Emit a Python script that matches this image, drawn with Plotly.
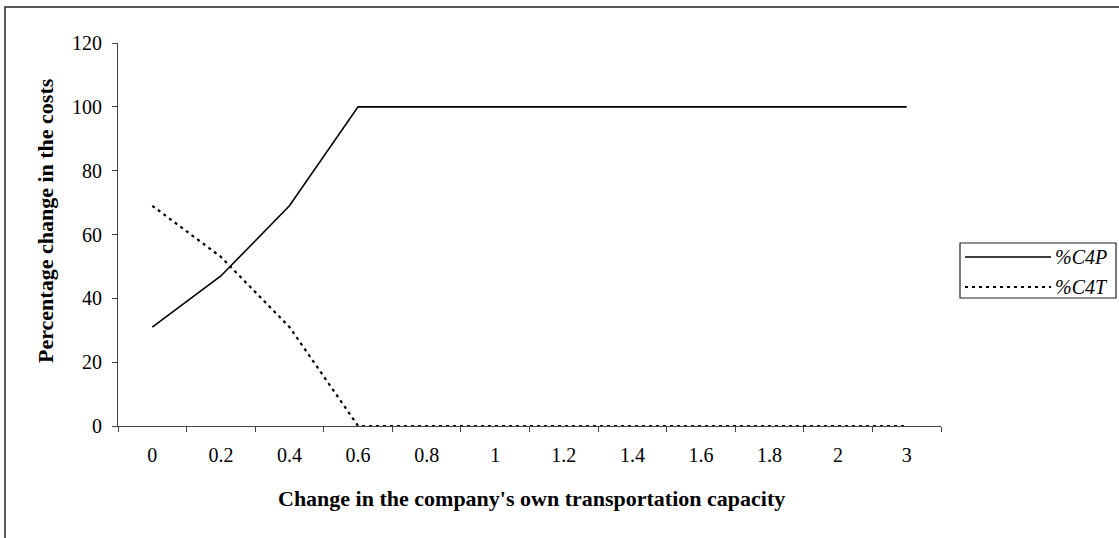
import plotly.graph_objects as go

categories = ["0", "0.2", "0.4", "0.6", "0.8", "1", "1.2", "1.4", "1.6", "1.8", "2", "3"]
c4p = [31, 47, 69, 100, 100, 100, 100, 100, 100, 100, 100, 100]
c4t = [69, 53, 31, 0, 0, 0, 0, 0, 0, 0, 0, 0]
series_names = ["%C4P", "%C4T"]
y_ticks = [0, 20, 40, 60, 80, 100, 120]
x_title = "Change in the company's own transportation capacity"
y_title = "Percentage change in the costs"

FONT = "Liberation Serif, Times New Roman, serif"

fig = go.Figure()
fig.add_trace(go.Scatter(x=categories, y=c4p, mode="lines", name=series_names[0],
                         line=dict(color="black", width=1.6), showlegend=False))
fig.add_trace(go.Scatter(x=categories, y=c4t, mode="lines", name=series_names[1],
                         line=dict(color="black", width=2.2, dash="3px,4px"), showlegend=False))

W, H = 1119, 538
L, R, T, B = 118, 941, 43, 426
pw, ph = R - L, B - T

def px(x):
    return (x - L) / pw

def py(y):
    return (B - y) / ph

shapes = []
# outer chart border (clipped at right/bottom like the reference)
shapes.append(dict(type="rect", xref="paper", yref="paper",
                   x0=px(5), x1=px(1130), y0=py(545), y1=py(7),
                   line=dict(color="#222", width=1.5), layer="below"))
# legend box
shapes.append(dict(type="rect", xref="paper", yref="paper",
                   x0=px(960), x1=px(1116), y0=py(298), y1=py(243),
                   line=dict(color="#222", width=1.2), fillcolor="white"))
# legend samples
shapes.append(dict(type="line", xref="paper", yref="paper",
                   x0=px(965), x1=px(1051), y0=py(257), y1=py(257),
                   line=dict(color="black", width=1.6)))
shapes.append(dict(type="line", xref="paper", yref="paper",
                   x0=px(965), x1=px(1051), y0=py(287), y1=py(287),
                   line=dict(color="black", width=2.2, dash="3px,4px")))

annotations = []
for name, yy in zip(series_names, [257, 287]):
    annotations.append(dict(xref="paper", yref="paper", x=px(1053), y=py(yy),
                            text=f"<i>{name}</i>", showarrow=False, xanchor="left",
                            yanchor="middle", font=dict(family=FONT, size=20, color="black")))
annotations.append(dict(xref="paper", yref="paper", x=px(45), y=py(221),
                        text=f"<b>{y_title}</b>", showarrow=False, textangle=-90,
                        xanchor="center", yanchor="middle",
                        font=dict(family=FONT, size=22, color="black")))
annotations.append(dict(xref="paper", yref="paper", x=px(531), y=py(498),
                        text=f"<b>{x_title}</b>", showarrow=False,
                        xanchor="center", yanchor="middle",
                        font=dict(family=FONT, size=22, color="black")))

fig.update_layout(
    width=W, height=H,
    margin=dict(l=L, r=W - R, t=T, b=H - B, pad=0),
    paper_bgcolor="white", plot_bgcolor="white",
    showlegend=False,
    font=dict(family=FONT, size=20, color="black"),
    shapes=shapes, annotations=annotations,
    xaxis=dict(type="category", range=[-0.5, len(categories) - 0.5],
               tickson="boundaries", ticks="outside", ticklen=5,
               tickcolor="#444", showline=True, linecolor="#444", linewidth=1.2,
               showgrid=False, zeroline=False, ticklabelstandoff=11,
               tickfont=dict(family=FONT, size=20, color="black")),
    yaxis=dict(range=[0, 120], tickvals=y_ticks, ticks="outside", ticklen=5,
               tickcolor="#444", showline=True, linecolor="#444", linewidth=1.2,
               showgrid=False, zeroline=False, ticklabelstandoff=6,
               tickfont=dict(family=FONT, size=20, color="black")),
)

fig.write_html("out.html", config={"displayModeBar": False},
               post_script="document.body.style.margin='0';")
